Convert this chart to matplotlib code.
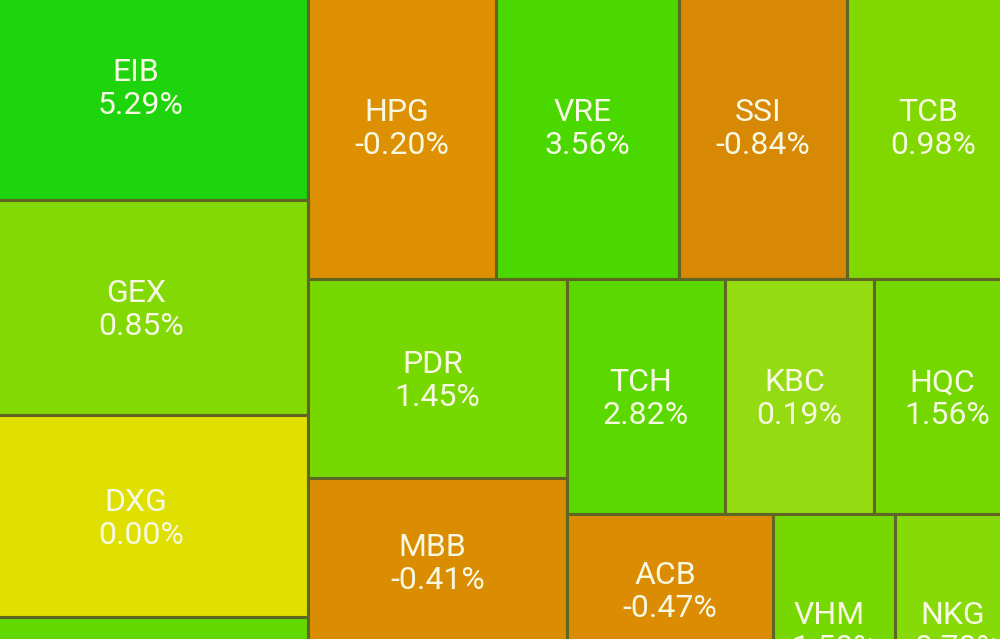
import matplotlib
matplotlib.use("Agg")
import matplotlib.pyplot as plt
from matplotlib.patches import Rectangle
from matplotlib.colors import LinearSegmentedColormap, Normalize
import numpy as np

# ma co phieu, % thay doi, trong so (von hoa tuong doi)
# cac o ten "" nam ngoai phan anh bi cat, khong thay nhan
tickers = ["EIB", "GEX", "DXG", "",
           "HPG", "VRE", "SSI", "TCB",
           "PDR", "MBB", "",
           "TCH", "KBC", "HQC",
           "ACB", "",
           "VHM", "NKG", ""]
changes = [5.29, 0.85, 0.00, 2.5,
           -0.20, 3.56, -0.84, 0.98,
           1.45, -0.41, 1.0,
           2.82, 0.19, 1.56,
           -0.47, 1.0,
           1.5, 0.7, 1.0]
weights = [75.8, 71.8, 67.5, 52.1,
           57.5, 56.0, 51.4, 52.9,
           51.5, 43.3, 33.2,
           37.1, 35.0, 34.3,
           30.9, 22.5,
           28.2, 28.9, 6.9]

# cau truc long nhau cua treemap (chia xen ke ngang / doc)
cay = [[0, 1, 2, 3],
       [[4, 5, 6, 7],
        [[8, 9, 10],
         [[11, 12, 13],
          [[14, 15], [[16, 17], 18]]]]]]


def tongTrongSo(nut):
    if isinstance(nut, list):
        return sum(tongTrongSo(n) for n in nut)
    return weights[nut]


# chia o theo kieu slice-and-dice
def chiaO(nut, x, y, w, h, ngang, ketQua):
    if not isinstance(nut, list):
        ketQua[nut] = (x, y, w, h)
        return
    tong = tongTrongSo(nut)
    for con in nut:
        phan = tongTrongSo(con) / tong
        if ngang:
            chiaO(con, x, y, w * phan, h, False, ketQua)
            x += w * phan
        else:
            chiaO(con, x, y, w, h * phan, True, ketQua)
            y += h * phan


# thang mau: am -> cam, 0 -> vang, duong -> xanh la
mocGiaTri = [-1.0, -0.1, 0.0, 0.2, 1.0, 3.5, 5.3]
mocMau = ["#d68606", "#de9100", "#e0e000", "#90dc12", "#80d800", "#4cd800", "#1ed40c"]
norm = Normalize(mocGiaTri[0], mocGiaTri[-1])
cmap = LinearSegmentedColormap.from_list(
    "bien_dong", [((v - mocGiaTri[0]) / (mocGiaTri[-1] - mocGiaTri[0]), c)
                  for v, c in zip(mocGiaTri, mocMau)], N=4096)

fig = plt.figure(figsize=(10, 6.39), dpi=100)
ax = fig.add_axes([0, 0, 1, 1])
ax.set_xlim(0, 1000)
ax.set_ylim(639, 0)
ax.axis("off")

oVuong = {}
chiaO(cay, -26, -27, 1046, 800, True, oVuong)

mauChu = "#f6f8e2"
for i, ma in enumerate(tickers):
    x, y, w, h = oVuong[i]
    ax.add_patch(Rectangle((x, y), w, h, facecolor=cmap(norm(changes[i])),
                           edgecolor="#5f6624", linewidth=2.2))
    if ma == "":
        continue
    cx = x + w / 2
    cy = y + h / 2
    ax.text(cx - 5, cy - 5, ma, ha="center", va="baseline", color=mauChu,
            fontsize=23, family="Roboto", clip_on=True)
    ax.text(cx, cy + 28, f"{changes[i]:.2f}%", ha="center", va="baseline",
            color=mauChu, fontsize=23, family="Roboto", clip_on=True)

fig.savefig("out.png", dpi=100)
